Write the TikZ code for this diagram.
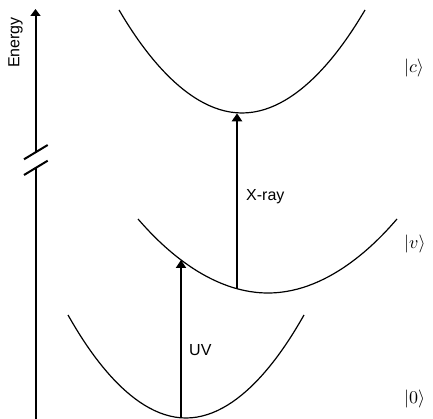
\documentclass[tikz,border=0pt]{standalone}
\usepackage{fontspec}
\setmainfont{Liberation Sans}
\usetikzlibrary{arrows.meta}
\newcommand{\ketlabel}[1]{\scalebox{1.8}{$|#1\rangle$}}
\begin{document}
\begin{tikzpicture}[x=1pt,y=-1pt,
  curve/.style={line width=1.2pt},
  trans/.style={line width=2pt,-{Triangle[length=8pt,width=10pt]}},
  axisline/.style={line width=2pt},
  lbl/.style={font=\fontsize{16}{19}\selectfont, inner sep=0pt},
  ket/.style={inner sep=0pt, anchor=west}]
\useasboundingbox (0,0) rectangle (433,419);
% energy axis with break
\coordinate (axB) at (35.5,419);
\coordinate (axM1) at (35.5,168);
\coordinate (axM2) at (35.5,152);
\coordinate (axT) at (35.5,9);
\coordinate (b1a) at (24,159.3); \coordinate (b1b) at (47.7,145);
\coordinate (b2a) at (24,175); \coordinate (b2b) at (47.7,160.7);
\draw[axisline] (axB) -- (axM1);
\draw[axisline,-{Triangle[length=7pt,width=10pt]}] (axM2) -- (axT);
\draw[axisline] (b1a) -- (b1b);
\draw[axisline] (b2a) -- (b2b);
\node[lbl,rotate=90] (energy) at (15.5,42.5) {Energy};
% potential curves
\coordinate (cL) at (119,10); \coordinate (cB) at (242,113); \coordinate (cR) at (365,10);
\coordinate (vL) at (138,219); \coordinate (vB) at (268,293); \coordinate (vR) at (397,219);
\coordinate (oL) at (68,315); \coordinate (oB) at (186,418); \coordinate (oR) at (304,315);
\draw[curve] (cL) parabola bend (cB) (cR);
\draw[curve] (vL) parabola bend (vB) (vR);
\draw[curve] (oL) parabola bend (oB) (oR);
% transitions
\coordinate (xrayFrom) at (237,288.8);
\coordinate (xrayTo) at (237,113.3);
\coordinate (uvFrom) at (181,418);
\coordinate (uvTo) at (181,260);
\draw[trans] (xrayFrom) -- (xrayTo);
\draw[trans] (uvFrom) -- (uvTo);
\node[lbl,anchor=west] (xray) at (246,197) {X-ray};
\node[lbl,anchor=west] (uv) at (189,350) {UV};
% state labels
\node[ket] (kc) at (404,68) {\ketlabel{c}};
\node[ket] (kv) at (404,244) {\ketlabel{v}};
\node[ket] (k0) at (404,399) {\ketlabel{0}};
\end{tikzpicture}
\end{document}
